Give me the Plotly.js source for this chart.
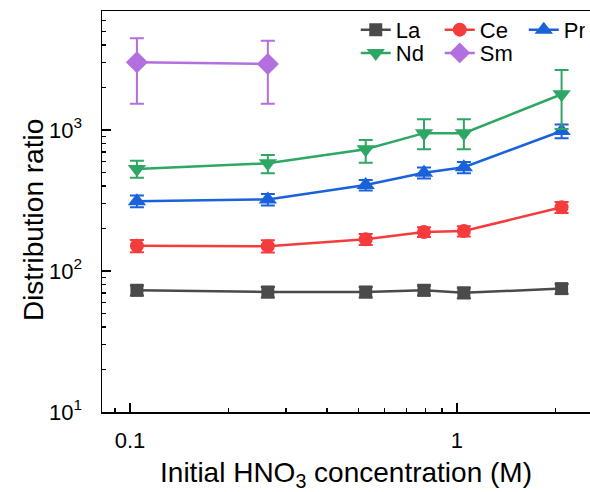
<!DOCTYPE html>
<html>
<head>
<meta charset="utf-8">
<script src="https://cdn.plot.ly/plotly-3.0.1.min.js"></script>
<style>html,body{margin:0;padding:0;background:#fff}#chart{width:590px;height:492px}</style>
</head>
<body>
<div id="chart"></div>
<script>
// Initial HNO3 concentration (M)
const xAll = [0.105, 0.264, 0.526, 0.793, 1.05, 2.09];
const xSm = [0.105, 0.264];

// Distribution ratios
const La = [73, 71, 71, 73, 70, 75];
const LaErr = [6, 6, 6, 6, 6, 6];
const Ce = [151, 150, 168, 189, 192, 283];
const CeErr = [15, 15, 15, 15, 16, 25];
const Pr = [313, 322, 407, 498, 544, 984];
const PrErr = [30, 30, 35, 45, 50, 110];
const Nd = [529, 580, 730, 950, 950, 1792];
const NdErrPlus = [77, 85, 119, 240, 240, 872];
const NdErrMinus = [70, 87, 144, 220, 220, 776];
const Sm = [3020, 2940];
const SmErrPlus = [1460, 1360];
const SmErrMinus = [1483, 1403];

const names = ['La', 'Ce', 'Pr', 'Nd', 'Sm'];
const colors = ['#4a4a4a', '#f53c3c', '#1a62da', '#2fa764', '#b36fdf'];
const symbols = ['square', 'circle', 'triangle-up', 'triangle-down', 'diamond'];
const sizes = [13, 14, 16, 16, 17];

function mk(i, x, y, plus, minus, legend) {
  return {
    type: 'scatter', mode: 'lines+markers', name: names[i], x: x, y: y,
    legend: legend,
    line: {color: colors[i], width: 2.5},
    marker: {color: colors[i], symbol: symbols[i], size: sizes[i]},
    error_y: {type: 'data', symmetric: false, array: plus, arrayminus: minus,
              color: colors[i], thickness: 2, width: 7}
  };
}

const traces = [
  mk(0, xAll, La, LaErr, LaErr, 'legend'),
  mk(1, xAll, Ce, CeErr, CeErr, 'legend'),
  mk(2, xAll, Pr, PrErr, PrErr, 'legend'),
  mk(3, xAll, Nd, NdErrPlus, NdErrMinus, 'legend2'),
  mk(4, xSm, Sm, SmErrPlus, SmErrMinus, 'legend2')
];
traces[2].legendwidth = 16;

const fontFam = '"Liberation Sans", Arial, sans-serif';
function legendObj(y) {
  return {
    orientation: 'h', xanchor: 'left', yanchor: 'middle', x: 0.52, y: y,
    entrywidth: 39, entrywidthmode: 'pixels',
    font: {family: fontFam, size: 22, color: '#000'},
    bgcolor: 'rgba(0,0,0,0)', borderwidth: 0, itemsizing: 'trace'
  };
}

const layout = {
  width: 590, height: 492,
  margin: {l: 102, r: 0, t: 11, b: 80},
  paper_bgcolor: '#fff', plot_bgcolor: '#fff',
  font: {family: fontFam, color: '#000'},
  showlegend: true,
  legend: legendObj(0.953),
  legend2: legendObj(0.895),
  xaxis: {
    type: 'log', range: [-1.0856, 0.407],
    tickvals: [0.1, 1], ticktext: ['0.1', '1'],
    ticks: 'inside', ticklen: 9, tickwidth: 1.5, tickcolor: '#000',
    minor: {ticks: 'inside', ticklen: 4, tickwidth: 1.5, tickcolor: '#000',
            tickvals: [0.09, 0.2, 0.3, 0.4, 0.5, 0.6, 0.7, 0.8, 0.9, 2]},
    showline: true, linecolor: '#000', linewidth: 1.5, mirror: true,
    showgrid: false, zeroline: false,
    tickfont: {size: 22, family: fontFam},
    ticklabelstandoff: 8,
    title: {text: 'Initial HNO<sub>3</sub> concentration (M)', font: {size: 28, family: fontFam}, standoff: 17}
  },
  yaxis: {
    type: 'log', range: [1, 3.844],
    tickvals: [10, 100, 1000], ticktext: ['10<sup>1</sup>', '10<sup>2</sup>', '10<sup>3</sup>'],
    ticks: 'inside', ticklen: 9, tickwidth: 1.5, tickcolor: '#000',
    minor: {ticks: 'inside', ticklen: 4, tickwidth: 1.5, tickcolor: '#000',
            tickvals: [20, 30, 40, 50, 60, 70, 80, 90, 200, 300, 400, 500, 600, 700, 800, 900, 2000, 3000, 4000, 5000, 6000]},
    showline: true, linecolor: '#000', linewidth: 1.5, mirror: false,
    showgrid: false, zeroline: false,
    tickfont: {size: 22, family: fontFam},
    ticklabelstandoff: 14
  },
  annotations: [{
    text: 'Distribution ratio', textangle: -90, showarrow: false,
    xref: 'paper', yref: 'paper', x: -0.139, y: 0.479,
    xanchor: 'center', yanchor: 'middle',
    font: {size: 28, family: fontFam, color: '#000'}
  }]
};

Plotly.newPlot('chart', traces, layout, {displayModeBar: false, staticPlot: true});
</script>
</body>
</html>
